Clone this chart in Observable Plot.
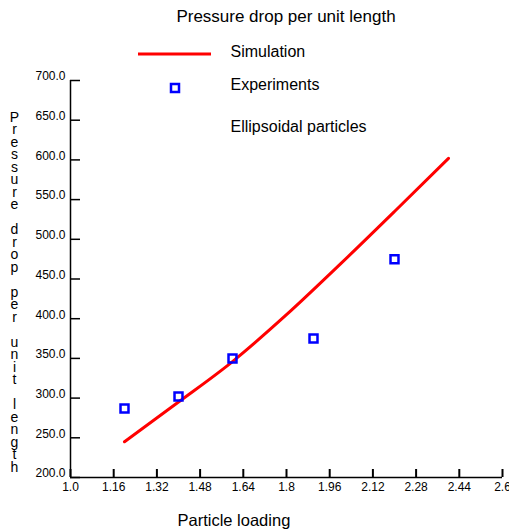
<!DOCTYPE html>
<html>
<head>
<meta charset="utf-8">
<script src="https://cdn.jsdelivr.net/npm/d3@7"></script>
<script src="https://cdn.jsdelivr.net/npm/@observablehq/plot@0.6"></script>
<style>
  html, body { margin: 0; padding: 0; background: #fff; }
  svg { display: block; }
</style>
</head>
<body>
<div id="chart"></div>
<script>
// ---- data ----
const simLoading  = [1.2, 1.4, 1.6, 1.8, 2.0, 2.2, 2.4];
const simPressure = [245, 295, 346, 405, 469, 535, 602];
const expLoading  = [1.2, 1.4, 1.6, 1.9, 2.2];
const expPressure = [287, 302, 350, 375, 475];

const xTicks = [1.0, 1.16, 1.32, 1.48, 1.64, 1.8, 1.96, 2.12, 2.28, 2.44, 2.6];
const xTickLabels = ["1.0", "1.16", "1.32", "1.48", "1.64", "1.8", "1.96", "2.12", "2.28", "2.44", "2.6"];
const yTicks = [200, 250, 300, 350, 400, 450, 500, 550, 600, 650, 700];
const yTickLabels = ["200.0", "250.0", "300.0", "350.0", "400.0", "450.0", "500.0", "550.0", "600.0", "650.0", "700.0"];

const titleText = "Pressure drop per unit length";
const xLabel = "Particle loading";
const yLabel = "Pressure drop per unit length";
const legendLabels = ["Simulation", "Experiments", "Ellipsoidal particles"];

// ---- layout ----
const W = 509, H = 529;
const mL = 70, mR = 7, mT = 80, mB = 52;
const frameW = W - mL - mR, frameH = H - mT - mB;
const font = "'Liberation Sans', Arial, Helvetica, sans-serif";

const simData = simLoading.map((x, i) => ({x, y: simPressure[i]}));
const expData = expLoading.map((x, i) => ({x, y: expPressure[i]}));

const legendMark = () => {
  const g = d3.create("svg:g");
  g.append("line")
    .attr("x1", 138).attr("x2", 211).attr("y1", 54).attr("y2", 54)
    .attr("stroke", "#ff0000").attr("stroke-width", 3);
  g.append("rect")
    .attr("x", 171).attr("y", 84).attr("width", 8).attr("height", 8)
    .attr("fill", "none").attr("stroke", "#0000ff").attr("stroke-width", 2.5);
  return g.node();
};

const chart = Plot.plot({
  width: W, height: H,
  marginLeft: mL, marginRight: mR, marginTop: mT, marginBottom: mB,
  x: {domain: [1.0, 2.6]},
  y: {domain: [200, 700]},
  style: {fontFamily: font, fontSize: "12px", color: "#000", background: "#fff"},
  marks: [
    Plot.axisX(xTicks, {tickSize: 0, tickPadding: 4.5, label: null, fontSize: 12,
      tickFormat: d => xTickLabels[xTicks.indexOf(d)]}),
    Plot.axisY(yTicks, {tickSize: 0, tickPadding: 5, label: null, fontSize: 12, dy: -4,
      tickFormat: d => yTickLabels[yTicks.indexOf(d)]}),
    Plot.tickX(xTicks, {x: d => d, insetTop: frameH - 8, stroke: "#000", strokeWidth: 2}),
    Plot.tickY(yTicks, {y: d => d, insetRight: frameW - 10, stroke: "#000", strokeWidth: 1.5}),
    Plot.ruleX([1.0], {stroke: "#000", strokeWidth: 1.5}),
    Plot.ruleY([200], {stroke: "#000", strokeWidth: 1.5}),
    Plot.line(simData, {x: "x", y: "y", stroke: "#ff0000", strokeWidth: 3, curve: "monotone-x"}),
    Plot.dot(expData, {x: "x", y: "y", symbol: "square", r: 4.5, stroke: "#0000ff", strokeWidth: 2.5, fill: "none"}),
    // title
    Plot.text([titleText], {frameAnchor: "top-left", dx: 215.5, dy: -64.4, textAnchor: "middle", lineAnchor: "middle", fontSize: 17, fill: "#000"}),
    // legend labels
    Plot.text([legendLabels[0]], {frameAnchor: "top-left", dx: 160, dy: -29.1, textAnchor: "start", lineAnchor: "middle", fontSize: 16, fill: "#000"}),
    Plot.text([legendLabels[1]], {frameAnchor: "top-left", dx: 160, dy: 4.4, textAnchor: "start", lineAnchor: "middle", fontSize: 16, fill: "#000"}),
    Plot.text([legendLabels[2]], {frameAnchor: "top-left", dx: 160, dy: 45.9, textAnchor: "start", lineAnchor: "middle", fontSize: 16, fill: "#000"}),
    legendMark,
    // x label
    Plot.text([xLabel], {frameAnchor: "bottom-left", dx: 107, dy: 43.5, textAnchor: "start", lineAnchor: "middle", fontSize: 16.5, fill: "#000"}),
    // y label (stacked letters)
    Plot.text([yLabel.split("").join("\n")], {frameAnchor: "left", dx: -56, dy: 13.5, textAnchor: "middle", lineAnchor: "middle", lineHeight: 12.5 / 14, fontSize: 14, fill: "#000"})
  ]
});
document.getElementById("chart").appendChild(chart);
</script>
</body>
</html>
